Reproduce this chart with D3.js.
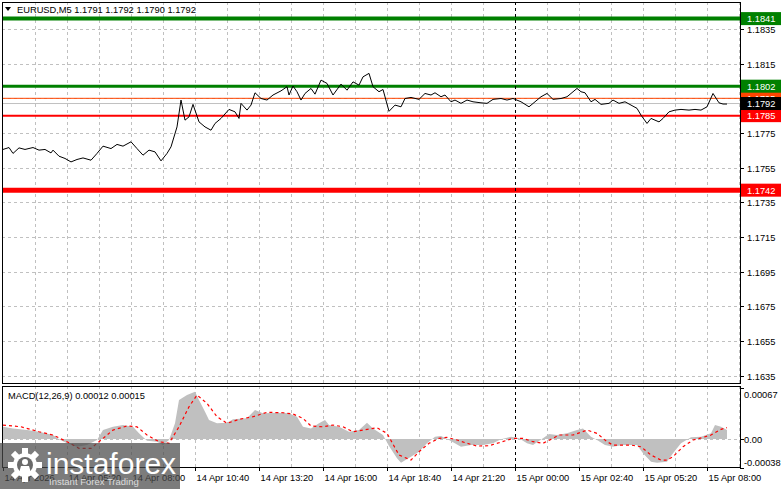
<!DOCTYPE html>
<html><head><meta charset="utf-8">
<script src="https://cdn.jsdelivr.net/npm/d3@7"></script>
<style>
body{margin:0;background:#fff;}
svg{display:block;}
text{font-family:'Liberation Sans',Arial,sans-serif;font-size:9.3px;}
</style>
</head><body>
<svg id="c" width="781" height="489"></svg>
<script>
// ---------- DATA ----------
const symbolTitle = "EURUSD,M5  1.1791 1.1792 1.1790 1.1792";
const macdTitle = "MACD(12,26,9) 0.00012 0.00015";
// [bar index (5-min bars since 14 Apr 02:40), close]
const priceSeries = [[0,1.17655],[3,1.17666],[5,1.17632],[8,1.17664],[11,1.17655],[15,1.17666],[18,1.17651],[21,1.17655],[24,1.17635],[25,1.17651],[28,1.17616],[31,1.17603],[34,1.17583],[37,1.17597],[40,1.17606],[44,1.17593],[47,1.17632],[50,1.17674],[54,1.17660],[57,1.17684],[60,1.17674],[64,1.17699],[67,1.17660],[70,1.17622],[73,1.17651],[76,1.17641],[79,1.17589],[82,1.17632],[84,1.17670],[87,1.17785],[89,1.17940],[91,1.17824],[93,1.17843],[95,1.17915],[98,1.17814],[101,1.17785],[104,1.17766],[106,1.17805],[109,1.17834],[113,1.17886],[116,1.17872],[118,1.17834],[119,1.17921],[122,1.17882],[124,1.17911],[126,1.17982],[129,1.17949],[132,1.17940],[135,1.17969],[139,1.17993],[142,1.18017],[143,1.17969],[145,1.18021],[147,1.17988],[149,1.17940],[151,1.17978],[154,1.18007],[156,1.17974],[159,1.18055],[162,1.18036],[165,1.17969],[169,1.18032],[172,1.17997],[175,1.18045],[178,1.18026],[180,1.18074],[183,1.18094],[185,1.18017],[188,1.17988],[190,1.18001],[193,1.17875],[196,1.17911],[199,1.17901],[201,1.17949],[204,1.17955],[208,1.17944],[211,1.17978],[214,1.17969],[216,1.17982],[219,1.17959],[221,1.17969],[224,1.17930],[226,1.17940],[229,1.17921],[232,1.17940],[235,1.17930],[239,1.17924],[242,1.17921],[245,1.17944],[249,1.17949],[252,1.17940],[255,1.17949],[259,1.17930],[263,1.17901],[266,1.17930],[269,1.17959],[272,1.17978],[275,1.17944],[279,1.17949],[282,1.17959],[284,1.17978],[287,1.18007],[289,1.17988],[291,1.17982],[294,1.17930],[296,1.17944],[299,1.17915],[303,1.17921],[305,1.17940],[308,1.17921],[311,1.17930],[314,1.17911],[317,1.17892],[319,1.17853],[322,1.17805],[324,1.17834],[328,1.17814],[330,1.17834],[333,1.17872],[336,1.17882],[339,1.17886],[343,1.17882],[346,1.17886],[349,1.17882],[352,1.17901],[355,1.17978],[358,1.17924],[360,1.17917],[362,1.17917]];
const macdHist = [[0,0.000161],[5,0.000140],[12,0.000118],[18,0.000096],[25,0.000053],[28,-0.000004],[32,-0.000056],[37,-0.000101],[42,-0.000079],[47,-0.000013],[50,0.000118],[55,0.000161],[60,0.000184],[65,0.000161],[68,0.000075],[72,-0.000022],[77,-0.000035],[80,-0.000079],[83,-0.000013],[86,0.000206],[88,0.000512],[92,0.000578],[96,0.000621],[98,0.000512],[101,0.000358],[103,0.000249],[107,0.000206],[112,0.000214],[115,0.000259],[122,0.000272],[126,0.000381],[130,0.000337],[137,0.000345],[143,0.000337],[147,0.000293],[150,0.000161],[154,0.000140],[158,0.000206],[161,0.000249],[163,0.000184],[168,0.000161],[173,0.000096],[178,0.000118],[182,0.000214],[185,0.000140],[190,0.000053],[193,-0.00009],[197,-0.000253],[199,-0.000311],[204,-0.000232],[208,-0.000167],[212,-0.000056],[216,0.000030],[219,0.000039],[223,-0.000013],[229,-0.000101],[234,-0.000079],[240,-0.000079],[245,-0.000056],[249,-0.000004],[254,0.000030],[258,0.000009],[262,-0.000056],[265,-0.000079],[270,0.000009],[273,0.000066],[277,0.000053],[282,0.000075],[287,0.000118],[290,0.000140],[294,0.000030],[297,-0.000013],[301,-0.000079],[305,-0.000101],[310,-0.000079],[317,-0.000079],[320,-0.000188],[324,-0.000298],[327,-0.000311],[332,-0.000298],[335,-0.000188],[339,-0.000056],[344,0.000022],[349,0.000030],[354,0.000075],[356,0.000184],[359,0.000161],[362,0.000118]];
const macdSignal = [[0,0.000184],[9,0.000161],[18,0.000096],[25,0.000053],[32,-0.000035],[38,-0.000122],[44,-0.000122],[48,-0.000035],[55,0.000118],[62,0.000171],[67,0.000161],[72,0.000053],[78,-0.000035],[83,-0.000056],[88,0.000161],[93,0.000424],[97,0.000578],[102,0.000469],[107,0.000293],[112,0.000206],[118,0.000259],[125,0.000293],[132,0.000351],[140,0.000345],[145,0.000328],[150,0.000272],[154,0.000171],[160,0.000161],[165,0.000184],[170,0.000161],[175,0.000096],[180,0.000118],[187,0.000148],[192,0.000075],[198,-0.00021],[204,-0.000276],[208,-0.000167],[213,-0.000056],[218,0.000009],[222,0.000022],[227,-0.000013],[232,-0.000056],[237,-0.000092],[243,-0.000088],[248,-0.000049],[255,0.000009],[260,0.000009],[265,-0.000035],[270,-0.000056],[275,0.000009],[278,0.000053],[285,0.000053],[292,0.000118],[297,0.000075],[302,-0.000035],[305,-0.000079],[314,-0.000079],[319,-0.000101],[324,-0.00021],[329,-0.000276],[332,-0.000276],[335,-0.000232],[340,-0.000101],[345,-0.000013],[350,0.000022],[354,0.000053],[359,0.000127],[362,0.00015]];
const priceTicks = [1.1835,1.1815,1.1795,1.1775,1.1755,1.1735,1.1715,1.1695,1.1675,1.1655,1.1635];
const macdTicks = [0.00067,0,-0.00038];
const macdTickLabels = ["0.00067","0.00","-0.00038"];
const timeTickBars = [0,32,64,96,128,160,192,224,256,288,320,352];
const timeTickLabels = ["14 Apr 2026","14 Apr 05:20","14 Apr 08:00","14 Apr 10:40","14 Apr 13:20","14 Apr 16:00","14 Apr 18:40","14 Apr 21:20","15 Apr 00:00","15 Apr 02:40","15 Apr 05:20","15 Apr 08:00"];
const resistanceLevels = [1.1841,1.1802];
const supportLevels = [1.1785,1.1742];
const askLevel = 1.1795;
const bidLevel = 1.1792;
const daySeparatorBar = 256;
const totalBars = 368.5;

// ---------- LAYOUT ----------
const svg = d3.select('#c');
const L = 2, R = 740;
const mainTop = 2, mainBot = 383;
const macdTop = 386, macdBot = 467;

const x = d3.scaleLinear().domain([0,totalBars]).range([3,R]);
const y = d3.scaleLinear().domain([1.1635,1.1835]).range([375.6,29]);
const ym = d3.scaleLinear().domain([-0.00038,0.00067]).range([468,388]);

const gridColor = '#c0c0c0';

// clip paths
const defs = svg.append('defs');
defs.append('clipPath').attr('id','cm').append('rect').attr('x',L).attr('y',mainTop).attr('width',R-L).attr('height',mainBot-mainTop);
defs.append('clipPath').attr('id','cd').append('rect').attr('x',L).attr('y',macdTop).attr('width',R-L).attr('height',macdBot-macdTop);

const gMain = svg.append('g').attr('clip-path','url(#cm)');
const gMacd = svg.append('g').attr('clip-path','url(#cd)');

// vertical grid (every 16 bars, offset 16)
const vgrid = d3.range(16, totalBars, 32);
[gMain, gMacd].forEach((g,i)=>{
  const t = i===0?mainTop:macdTop, b = i===0?mainBot:macdBot;
  g.selectAll('line.vg').data(vgrid.concat(timeTickBars.slice(1))).enter().append('line')
    .attr('x1',d=>Math.round(x(d))+0.5).attr('x2',d=>Math.round(x(d))+0.5)
    .attr('y1',t).attr('y2',b)
    .attr('stroke',gridColor).attr('stroke-dasharray','3,3');
});
// horizontal grid main
gMain.selectAll('line.hg').data(priceTicks).enter().append('line')
  .attr('x1',L).attr('x2',R).attr('y1',d=>Math.round(y(d))+0.5).attr('y2',d=>Math.round(y(d))+0.5)
  .attr('stroke',gridColor).attr('stroke-dasharray','3,3');
// zero line macd
gMacd.append('line').attr('x1',L).attr('x2',R)
  .attr('y1',Math.round(ym(0))+0.5).attr('y2',Math.round(ym(0))+0.5)
  .attr('stroke',gridColor).attr('stroke-dasharray','3,3');

// day separator
[[mainTop,mainBot],[macdTop,macdBot]].forEach(([t,b])=>{
  svg.append('line').attr('x1',Math.round(x(daySeparatorBar))+0.5).attr('x2',Math.round(x(daySeparatorBar))+0.5)
    .attr('y1',t).attr('y2',b).attr('stroke','#000').attr('stroke-dasharray','3,3');
});

// level lines
gMain.append('line').attr('x1',L).attr('x2',R).attr('y1',y(bidLevel)).attr('y2',y(bidLevel)).attr('stroke','#c0c0c0').attr('stroke-width',1);
gMain.append('line').attr('x1',L).attr('x2',R).attr('y1',y(askLevel)).attr('y2',y(askLevel)).attr('stroke','#ff4500').attr('stroke-width',1);
const resW = [4,3], supW = [2,5];
resistanceLevels.forEach((v,i)=>{
  gMain.append('line').attr('x1',L).attr('x2',R).attr('y1',y(v)).attr('y2',y(v)).attr('stroke','#008000').attr('stroke-width',resW[i]);
});
supportLevels.forEach((v,i)=>{
  gMain.append('line').attr('x1',L).attr('x2',R).attr('y1',y(v)).attr('y2',y(v)).attr('stroke','#ff0000').attr('stroke-width',supW[i]);
});

// price line
gMain.append('path').datum(priceSeries)
  .attr('d', d3.line().x(d=>x(d[0])).y(d=>y(d[1])))
  .attr('fill','none').attr('stroke','#000').attr('stroke-width',1);

// MACD histogram
gMacd.append('path').datum(macdHist)
  .attr('d', d3.area().x(d=>x(d[0])).y0(ym(0)).y1(d=>ym(d[1])))
  .attr('fill','#c0c0c0');
// signal
gMacd.append('path').datum(macdSignal)
  .attr('d', d3.line().x(d=>x(d[0])).y(d=>ym(d[1])))
  .attr('fill','none').attr('stroke','#ff0000').attr('stroke-width',1.2).attr('stroke-dasharray','3,3');

// frames
svg.append('rect').attr('x',L+0.5).attr('y',mainTop+0.5).attr('width',R-L).attr('height',mainBot-mainTop).attr('fill','none').attr('stroke','#000');
svg.append('rect').attr('x',L+0.5).attr('y',macdTop+0.5).attr('width',R-L).attr('height',macdBot-macdTop).attr('fill','none').attr('stroke','#000');

// price axis ticks & labels
priceTicks.forEach(v=>{
  const yy = Math.round(y(v))+0.5;
  svg.append('line').attr('x1',R).attr('x2',R+4).attr('y1',yy).attr('y2',yy).attr('stroke','#000');
  svg.append('text').attr('x',747).attr('y',yy+3.5).attr('fill','#000').text(v.toFixed(4));
});
// macd axis
macdTicks.forEach((v,i)=>{
  const yy = Math.round(ym(v))+0.5;
  svg.append('line').attr('x1',R).attr('x2',R+4).attr('y1',yy).attr('y2',yy).attr('stroke','#000');
  let ty = yy+3.5;
  if(i===0) ty = yy+9.5;
  if(i===2) ty = yy-3;
  svg.append('text').attr('x',744).attr('y',ty).attr('fill','#000').text(macdTickLabels[i]);
});

// level boxes
function box(v, bg, fg){
  const yy = y(v);
  svg.append('rect').attr('x',741).attr('y',yy-6.5).attr('width',40).attr('height',13).attr('fill',bg);
  svg.append('text').attr('x',747).attr('y',yy+3.5).attr('fill',fg).text(v.toFixed(4));
}
box(askLevel,'#ff4500','#fff');
resistanceLevels.forEach(v=>box(v,'#008000','#fff'));
supportLevels.forEach(v=>box(v,'#ff0000','#fff'));
box(bidLevel,'#000','#fff');

// time axis
timeTickBars.forEach((b,i)=>{
  const xx = Math.round(x(b))+0.5;
  svg.append('line').attr('x1',xx).attr('x2',xx).attr('y1',macdBot).attr('y2',macdBot+4).attr('stroke','#000');
  svg.append('text').attr('x',xx+1).attr('y',481).attr('fill','#000').text(timeTickLabels[i]);
});

// titles
svg.append('path').attr('d','M5,7 L11,7 L8,11 Z').attr('fill','#000');
svg.append('text').attr('x',17).attr('y',13).attr('fill','#000').text(symbolTitle);
svg.append('text').attr('x',8).attr('y',399).attr('fill','#000').text(macdTitle);

// watermark
const wm = svg.append('g');
wm.append('rect').attr('x',0).attr('y',443).attr('width',180).attr('height',46).attr('fill','#4a4a4a').attr('opacity',0.72);
const gear = wm.append('g').attr('transform','translate(25,465)');
for(let k=0;k<8;k++){
  gear.append('rect').attr('x',-3).attr('y',-17).attr('width',6).attr('height',7).attr('fill','#fff')
    .attr('transform',`rotate(${k*45})`);
}
gear.append('circle').attr('r',12).attr('fill','#fff');
gear.append('circle').attr('r',8).attr('fill','#6a6a6a');
gear.append('circle').attr('cy',-3).attr('r',3).attr('fill','#fff');
gear.append('path').attr('d','M-6,8 L-4,1 L4,1 L6,8 Z').attr('fill','#fff');
wm.append('text').attr('x',46).attr('y',474).attr('fill','#fff').style('font-size','30px').style('font-family',"'Liberation Sans',Arial,sans-serif").text('instaforex');
wm.append('text').attr('x',49).attr('y',485).attr('fill','#ddd').style('font-size','9.5px').text('Instant Forex Trading');
</script>
</body></html>
